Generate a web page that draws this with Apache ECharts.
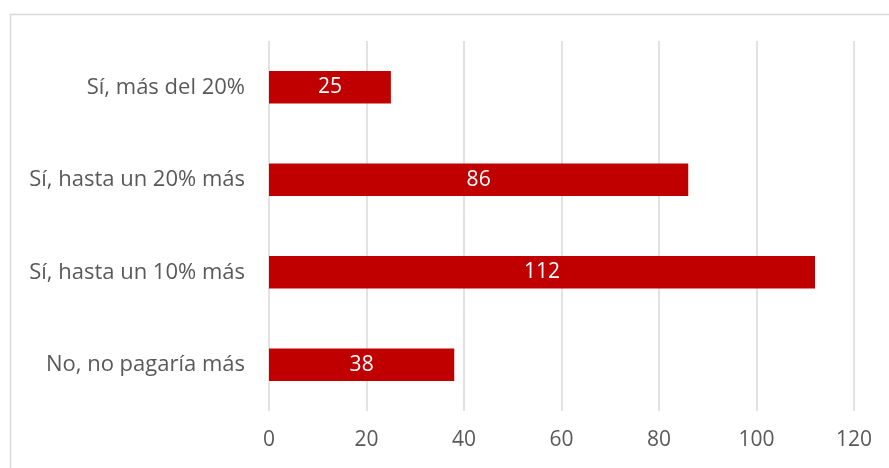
<!DOCTYPE html>
<html>
<head>
<meta charset="utf-8">
<style>
  html, body { margin: 0; padding: 0; background: #ffffff; }
  #chart { width: 889px; height: 468px; }
</style>
<script src="https://cdn.jsdelivr.net/npm/echarts@6/dist/echarts.min.js"></script>
</head>
<body>
<div id="chart"></div>
<script>
// Survey answers, bottom to top as drawn on the category axis
const categories = ['No, no pagaría más', 'Sí, hasta un 10% más', 'Sí, hasta un 20% más', 'Sí, más del 20%'];
const counts = [38, 112, 86, 25];
const axisTicks = [0, 20, 40, 60, 80, 100, 120];

const chart = echarts.init(document.getElementById('chart'), null, { renderer: 'canvas' });
const textFont = '"Open Sans", "Liberation Sans", sans-serif';

chart.setOption({
  animation: false,
  backgroundColor: '#ffffff',
  graphic: [{
    type: 'rect',
    left: 8, top: 12,
    shape: { width: 900, height: 480 },
    style: { fill: 'none', stroke: '#d9d9d9', lineWidth: 1.5 },
    silent: true
  }],
  grid: { left: 269, right: 35, top: 41, bottom: 57, containLabel: false },
  xAxis: {
    type: 'value',
    min: axisTicks[0],
    max: axisTicks[axisTicks.length - 1],
    interval: axisTicks[1] - axisTicks[0],
    axisLine: { show: false },
    axisTick: { show: false },
    splitLine: { show: true, lineStyle: { color: '#d9d9d9', width: 1.5 } },
    axisLabel: { color: '#595959', fontSize: 21, fontFamily: textFont, margin: 19 }
  },
  yAxis: {
    type: 'category',
    data: categories,
    axisLine: { show: false },
    axisTick: { show: false },
    axisLabel: { color: '#595959', fontSize: 22, fontFamily: textFont, margin: 24 }
  },
  series: [{
    type: 'bar',
    data: counts,
    barWidth: '35%',
    itemStyle: { color: '#c00000' },
    label: {
      show: true,
      position: 'inside',
      color: '#ffffff',
      fontSize: 21,
      fontFamily: textFont
    }
  }]
});
</script>
</body>
</html>
